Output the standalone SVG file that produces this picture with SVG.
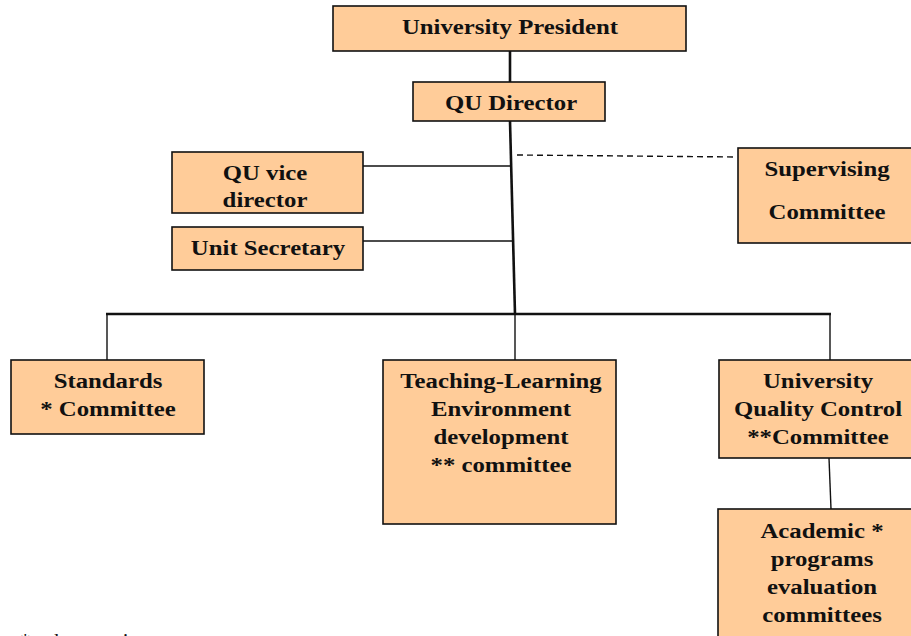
<svg xmlns="http://www.w3.org/2000/svg" width="911" height="636" viewBox="0 0 911 636">
<style>
.box{fill:#FFCC99;stroke:#111;stroke-width:1.6}
.t{font-family:"Liberation Serif","Times New Roman",serif;font-weight:bold;font-size:21px;fill:#111;text-anchor:middle}
.c{stroke:#111;stroke-width:1.4;fill:none}
.m{stroke:#111;stroke-width:2.6;fill:none}
.d{stroke:#111;stroke-width:1.4;fill:none;stroke-dasharray:6 4}
</style>
<rect width="911" height="636" fill="#fff"/>
<g id="connectors">
<line class="m" x1="510" y1="51" x2="510" y2="82"/>
<line class="m" x1="510" y1="121" x2="515" y2="314"/>
<line class="c" x1="363" y1="166" x2="511" y2="166"/>
<line class="c" x1="363" y1="241" x2="512" y2="241"/>
<line class="d" x1="517" y1="155" x2="737" y2="157"/>
<line class="m" x1="106" y1="314" x2="831" y2="314"/>
<line class="c" x1="107" y1="314" x2="107" y2="360"/>
<line class="c" x1="515" y1="314" x2="515" y2="360"/>
<line class="c" x1="830" y1="314" x2="830" y2="360"/>
<line class="c" x1="829" y1="458" x2="831" y2="509"/>
</g>
<g id="president">
<rect class="box" x="333" y="6" width="353" height="45"/>
<text class="t" transform="matrix(1.18 0 0 1 510 34)">University President</text>
</g>
<g id="director">
<rect class="box" x="413" y="82" width="192" height="39"/>
<text class="t" transform="matrix(1.18 0 0 1 511 110)">QU Director</text>
</g>
<g id="vice">
<rect class="box" x="172" y="152" width="191" height="61"/>
<text class="t" transform="matrix(1.18 0 0 1 265 180)">QU vice</text>
<text class="t" transform="matrix(1.18 0 0 1 265 207)">director</text>
</g>
<g id="secretary">
<rect class="box" x="172" y="227" width="191" height="43"/>
<text class="t" transform="matrix(1.18 0 0 1 268 255)">Unit Secretary</text>
</g>
<g id="supervising">
<rect class="box" x="738" y="148" width="180" height="95"/>
<text class="t" transform="matrix(1.18 0 0 1 827 176)">Supervising</text>
<text class="t" transform="matrix(1.18 0 0 1 827 219)">Committee</text>
</g>
<g id="standards">
<rect class="box" x="11" y="360" width="193" height="74"/>
<text class="t" transform="matrix(1.18 0 0 1 108 388)">Standards</text>
<text class="t" transform="matrix(1.18 0 0 1 108 416)">* Committee</text>
</g>
<g id="teaching">
<rect class="box" x="383" y="360" width="233" height="164"/>
<text class="t" transform="matrix(1.18 0 0 1 501 388)">Teaching-Learning</text>
<text class="t" transform="matrix(1.18 0 0 1 501 416)">Environment</text>
<text class="t" transform="matrix(1.18 0 0 1 501 444)">development</text>
<text class="t" transform="matrix(1.18 0 0 1 501 472)">** committee</text>
</g>
<g id="quality">
<rect class="box" x="719" y="360" width="200" height="98"/>
<text class="t" transform="matrix(1.18 0 0 1 818 388)">University</text>
<text class="t" transform="matrix(1.18 0 0 1 818 416)">Quality Control</text>
<text class="t" transform="matrix(1.18 0 0 1 818 444)">**Committee</text>
</g>
<g id="academic">
<rect class="box" x="718" y="509" width="200" height="140"/>
<text class="t" transform="matrix(1.18 0 0 1 822 538)">Academic *</text>
<text class="t" transform="matrix(1.18 0 0 1 822 566)">programs</text>
<text class="t" transform="matrix(1.18 0 0 1 822 594)">evaluation</text>
<text class="t" transform="matrix(1.18 0 0 1 822 622)">committees</text>
</g>
<text x="20" y="648" style="font-family:'Liberation Serif',serif;font-size:21px;fill:#111">* sub committee</text>
</svg>
